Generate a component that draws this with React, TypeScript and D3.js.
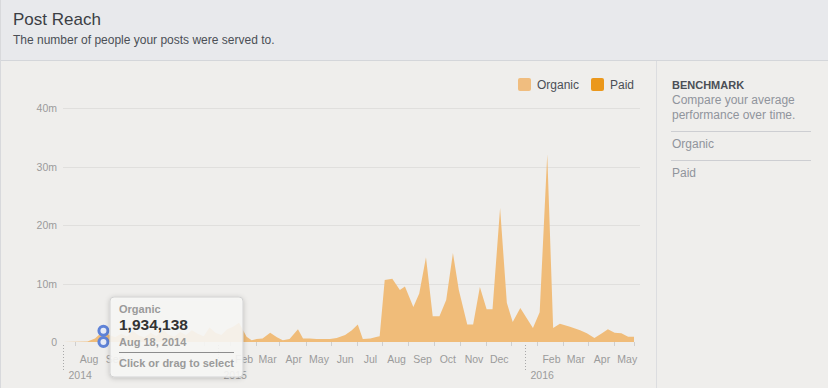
import * as d3 from 'd3'
import React, { useEffect, useRef } from 'react'

// organic reach, one vertex per reading off the chart (date, people)
const organic: [string, number][] = [
  ['2014-07-01', 0], ['2014-07-30', 0.1e6], ['2014-08-08', 0.6e6], ['2014-08-18', 1934138],
  ['2014-08-25', 1.2e6], ['2014-09-01', 0.8e6], ['2014-09-08', 1.4e6], ['2014-09-15', 0.9e6],
  ['2014-09-22', 1.9e6], ['2014-09-29', 1.1e6], ['2014-10-06', 0.8e6], ['2014-10-13', 1.6e6],
  ['2014-10-20', 1.0e6], ['2014-10-27', 2.3e6], ['2014-11-03', 1.3e6], ['2014-11-10', 0.9e6],
  ['2014-11-17', 1.7e6], ['2014-11-24', 1.2e6], ['2014-12-01', 2.0e6], ['2014-12-08', 1.4e6],
  ['2014-12-15', 1.0e6], ['2014-12-22', 2.5e6], ['2014-12-29', 1.6e6], ['2015-01-05', 1.2e6],
  ['2015-01-12', 2.2e6], ['2015-01-19', 2.6e6], ['2015-01-26', 3.3e6], ['2015-02-04', 0.9e6],
  ['2015-02-10', 0.3e6], ['2015-02-16', 0.5e6], ['2015-02-23', 0.6e6], ['2015-03-04', 1.6e6],
  ['2015-03-12', 0.8e6], ['2015-03-19', 0.3e6], ['2015-03-27', 0.5e6], ['2015-04-06', 2.2e6],
  ['2015-04-12', 0.6e6], ['2015-04-20', 0.6e6], ['2015-04-28', 0.5e6], ['2015-05-06', 0.5e6],
  ['2015-05-14', 0.5e6], ['2015-05-22', 0.7e6], ['2015-06-01', 1.2e6], ['2015-06-09', 2.0e6],
  ['2015-06-16', 3.0e6], ['2015-06-22', 0.5e6], ['2015-07-01', 0.6e6], ['2015-07-09', 0.9e6],
  ['2015-07-12', 1.0e6], ['2015-07-18', 10.6e6], ['2015-07-27', 10.8e6], ['2015-08-05', 8.9e6],
  ['2015-08-11', 9.5e6], ['2015-08-21', 6.0e6], ['2015-08-28', 8.3e6], ['2015-09-05', 14.5e6],
  ['2015-09-13', 4.4e6], ['2015-09-21', 4.4e6], ['2015-09-29', 7.2e6], ['2015-10-07', 15.2e6],
  ['2015-10-14', 8.9e6], ['2015-10-24', 3.0e6], ['2015-10-31', 3.0e6], ['2015-11-08', 9.4e6],
  ['2015-11-16', 5.6e6], ['2015-11-23', 5.6e6], ['2015-12-02', 22.9e6], ['2015-12-10', 6.7e6],
  ['2015-12-17', 3.4e6], ['2015-12-26', 5.8e6], ['2016-01-10', 2.4e6], ['2016-01-18', 5.1e6],
  ['2016-01-27', 32.1e6], ['2016-02-03', 2.4e6], ['2016-02-11', 3.1e6], ['2016-02-23', 2.6e6],
  ['2016-03-06', 2.0e6], ['2016-03-14', 1.5e6], ['2016-03-23', 0.7e6], ['2016-04-01', 1.5e6],
  ['2016-04-08', 2.2e6], ['2016-04-16', 1.6e6], ['2016-04-24', 1.5e6], ['2016-05-02', 0.9e6],
  ['2016-05-09', 0.9e6]
]

const hovered = { date: '2014-08-18', organic: 1934138, paid: 0 }

const yTicks = [0, 10e6, 20e6, 30e6, 40e6]

// Oct-Dec 2014 sit behind the tooltip in the reference, so they are left out
const monthTicks: [string, string][] = [
  ['2014-08-01', 'Aug'], ['2014-09-01', 'Sep'],
  ['2015-02-01', 'Feb'], ['2015-03-01', 'Mar'], ['2015-04-01', 'Apr'],
  ['2015-05-01', 'May'], ['2015-06-01', 'Jun'], ['2015-07-01', 'Jul'], ['2015-08-01', 'Aug'],
  ['2015-09-01', 'Sep'], ['2015-10-01', 'Oct'], ['2015-11-01', 'Nov'], ['2015-12-01', 'Dec'],
  ['2016-02-01', 'Feb'], ['2016-03-01', 'Mar'], ['2016-04-01', 'Apr'], ['2016-05-01', 'May']
]

const yearTicks: [string, string][] = [
  ['2014-07-01', '2014'], ['2015-01-01', '2015'], ['2016-01-01', '2016']
]

const legendItems = [
  { name: 'Organic', color: '#f0bd7f' },
  { name: 'Paid', color: '#eb981c' }
]

const W = 828
const H = 388
const font = '"Liberation Sans", Arial, Helvetica, sans-serif'
const parse = d3.timeParse('%Y-%m-%d')

export default function App() {
  const sandbox = useRef(null)

  useEffect(() => {
    document.body.style.margin = '0'
    const svg = d3.select(sandbox.current)
    svg.selectAll('*').remove()
    renderReach(svg)
  }, [sandbox])

  return <svg ref={sandbox} width={W} height={H} style={{ display: 'block' }} />
}

const renderReach = (svg: any) => {
  const x = d3
    .scaleTime()
    .domain([parse('2014-07-01'), parse('2016-05-09')])
    .range([63, 634])
  const y = d3.scaleLinear().domain([0, 40e6]).range([342, 108])
  const data = organic.map(([d, v]) => ({ date: parse(d), value: v }))

  const defs = svg.append('defs')
  const shadow = defs.append('filter').attr('id', 'tipShadow').attr('x', '-20%').attr('y', '-20%').attr('width', '140%').attr('height', '150%')
  shadow.append('feDropShadow').attr('dx', 0).attr('dy', 1).attr('stdDeviation', 2.5).attr('flood-color', '#000').attr('flood-opacity', 0.22)

  // card
  svg.append('rect').attr('width', W).attr('height', H).attr('fill', '#efeeec')
  svg.append('rect').attr('width', W).attr('height', 60).attr('fill', '#e8e9ec')
  svg.append('line').attr('x1', 0).attr('x2', W).attr('y1', 60.5).attr('y2', 60.5).attr('stroke', '#d4d6da')
  svg.append('line').attr('x1', 0.5).attr('x2', 0.5).attr('y1', 0).attr('y2', H).attr('stroke', '#d8d9dc')
  svg.append('line').attr('x1', 656.5).attr('x2', 656.5).attr('y1', 61).attr('y2', H).attr('stroke', '#dcdde0')

  svg.append('text').attr('x', 13).attr('y', 25).text('Post Reach')
    .style('font-family', font).style('font-size', '17px').attr('fill', '#3b3e44')
  svg.append('text').attr('x', 13).attr('y', 44).text('The number of people your posts were served to.')
    .style('font-family', font).style('font-size', '12px').attr('fill', '#4b4f56')

  // grid + y labels
  svg.append('g').selectAll('line').data(yTicks.filter(t => t > 0)).enter().append('line')
    .attr('x1', 63).attr('x2', 640)
    .attr('y1', (d: number) => Math.round(y(d)) + 0.5).attr('y2', (d: number) => Math.round(y(d)) + 0.5)
    .attr('stroke', '#e0dfdd')
  svg.append('g').selectAll('text').data(yTicks).enter().append('text')
    .attr('x', 57).attr('y', (d: number) => y(d) + 4).attr('text-anchor', 'end')
    .text((d: number) => (d === 0 ? '0' : `${d / 1e6}m`))
    .style('font-family', font).style('font-size', '10.5px').attr('fill', '#9b9b9b')

  // organic area
  const area = d3.area<any>().x(d => x(d.date)).y0(y(0)).y1(d => y(d.value))
  svg.append('path').datum(data).attr('d', area).attr('fill', '#f0bc79')

  // baseline ticks at mid-month
  const mids = d3.timeMonth.range(parse('2014-07-01'), parse('2016-05-01')).map(m => d3.timeDay.offset(m, 14))
  svg.append('g').selectAll('line').data(mids).enter().append('line')
    .attr('x1', (d: Date) => Math.round(x(d)) + 0.5).attr('x2', (d: Date) => Math.round(x(d)) + 0.5)
    .attr('y1', 342).attr('y2', 346).attr('stroke', '#cfcfcf')
  svg.append('line').attr('x1', 634.5).attr('x2', 634.5).attr('y1', 342).attr('y2', 346).attr('stroke', '#cfcfcf')

  // month labels
  svg.append('g').selectAll('text').data(monthTicks).enter().append('text')
    .attr('x', (d: [string, string]) => x(parse(d[0]))).attr('y', 363).attr('text-anchor', 'middle')
    .text((d: [string, string]) => d[1])
    .style('font-family', font).style('font-size', '10.5px').attr('fill', '#9b9b9b')

  // year markers
  const years = svg.append('g').selectAll('g').data(yearTicks).enter().append('g')
    .attr('transform', (d: [string, string]) => `translate(${Math.round(x(parse(d[0]))) + 0.5},0)`)
  years.append('line').attr('y1', 345).attr('y2', 371).attr('stroke', '#a9a9a9').attr('stroke-dasharray', '1,2')
  years.append('text').attr('x', 5).attr('y', 379).text((d: [string, string]) => d[1])
    .style('font-family', font).style('font-size', '10.5px').attr('fill', '#9b9b9b')

  // legend
  const legend = svg.append('g').selectAll('g').data(legendItems).enter().append('g')
    .attr('transform', (d: any, i: number) => `translate(${i === 0 ? 518 : 591},78)`)
  legend.append('rect').attr('width', 13).attr('height', 13).attr('rx', 2).attr('fill', (d: any) => d.color)
  legend.append('text').attr('x', 19).attr('y', 11).text((d: any) => d.name)
    .style('font-family', font).style('font-size', '12px').attr('fill', '#4b4f56')

  // benchmark panel
  const side = svg.append('g').attr('transform', 'translate(672,0)')
  side.append('text').attr('y', 89).text('BENCHMARK')
    .style('font-family', font).style('font-size', '11px').style('font-weight', 'bold').attr('fill', '#4b4f56')
  side.append('text').attr('y', 104).text('Compare your average')
    .style('font-family', font).style('font-size', '12px').attr('fill', '#90949c')
  side.append('text').attr('y', 119).text('performance over time.')
    .style('font-family', font).style('font-size', '12px').attr('fill', '#90949c')
  side.append('line').attr('x1', -1).attr('x2', 139).attr('y1', 131.5).attr('y2', 131.5).attr('stroke', '#cdced2')
  side.append('text').attr('y', 148).text('Organic')
    .style('font-family', font).style('font-size', '12px').attr('fill', '#90949c')
  side.append('line').attr('x1', -1).attr('x2', 139).attr('y1', 160.5).attr('y2', 160.5).attr('stroke', '#cdced2')
  side.append('text').attr('y', 177).text('Paid')
    .style('font-family', font).style('font-size', '12px').attr('fill', '#90949c')

  // hover markers
  const hx = x(parse(hovered.date))
  svg.append('g').selectAll('circle').data([hovered.organic, hovered.paid]).enter().append('circle')
    .attr('cx', hx).attr('cy', (d: number) => y(d)).attr('r', 4.5)
    .attr('fill', '#e6ebf7').attr('stroke', '#5f83d8').attr('stroke-width', 3)

  // tooltip
  const tip = svg.append('g').attr('transform', 'translate(110,297)')
  tip.append('rect').attr('width', 133).attr('height', 80).attr('rx', 4)
    .attr('fill', '#f8f8f7').attr('fill-opacity', 0.88).attr('stroke', '#d2d2d2')
    .attr('filter', 'url(#tipShadow)')
  tip.append('text').attr('x', 9).attr('y', 16).text('Organic')
    .style('font-family', font).style('font-size', '11px').style('font-weight', 'bold').attr('fill', '#9a9a9a')
  tip.append('text').attr('x', 9).attr('y', 33).text(d3.format(',')(hovered.organic))
    .style('font-family', font).style('font-size', '15.5px').style('font-weight', 'bold').attr('fill', '#333')
  tip.append('text').attr('x', 9).attr('y', 49).text(d3.timeFormat('%b %-d, %Y')(parse(hovered.date)))
    .style('font-family', font).style('font-size', '11px').style('font-weight', 'bold').attr('fill', '#9a9a9a')
  tip.append('line').attr('x1', 9).attr('x2', 124).attr('y1', 55.5).attr('y2', 55.5).attr('stroke', '#8d8d8d')
  tip.append('text').attr('x', 9).attr('y', 70).text('Click or drag to select')
    .style('font-family', font).style('font-size', '11px').style('font-weight', 'bold').attr('fill', '#9a9a9a')
}
